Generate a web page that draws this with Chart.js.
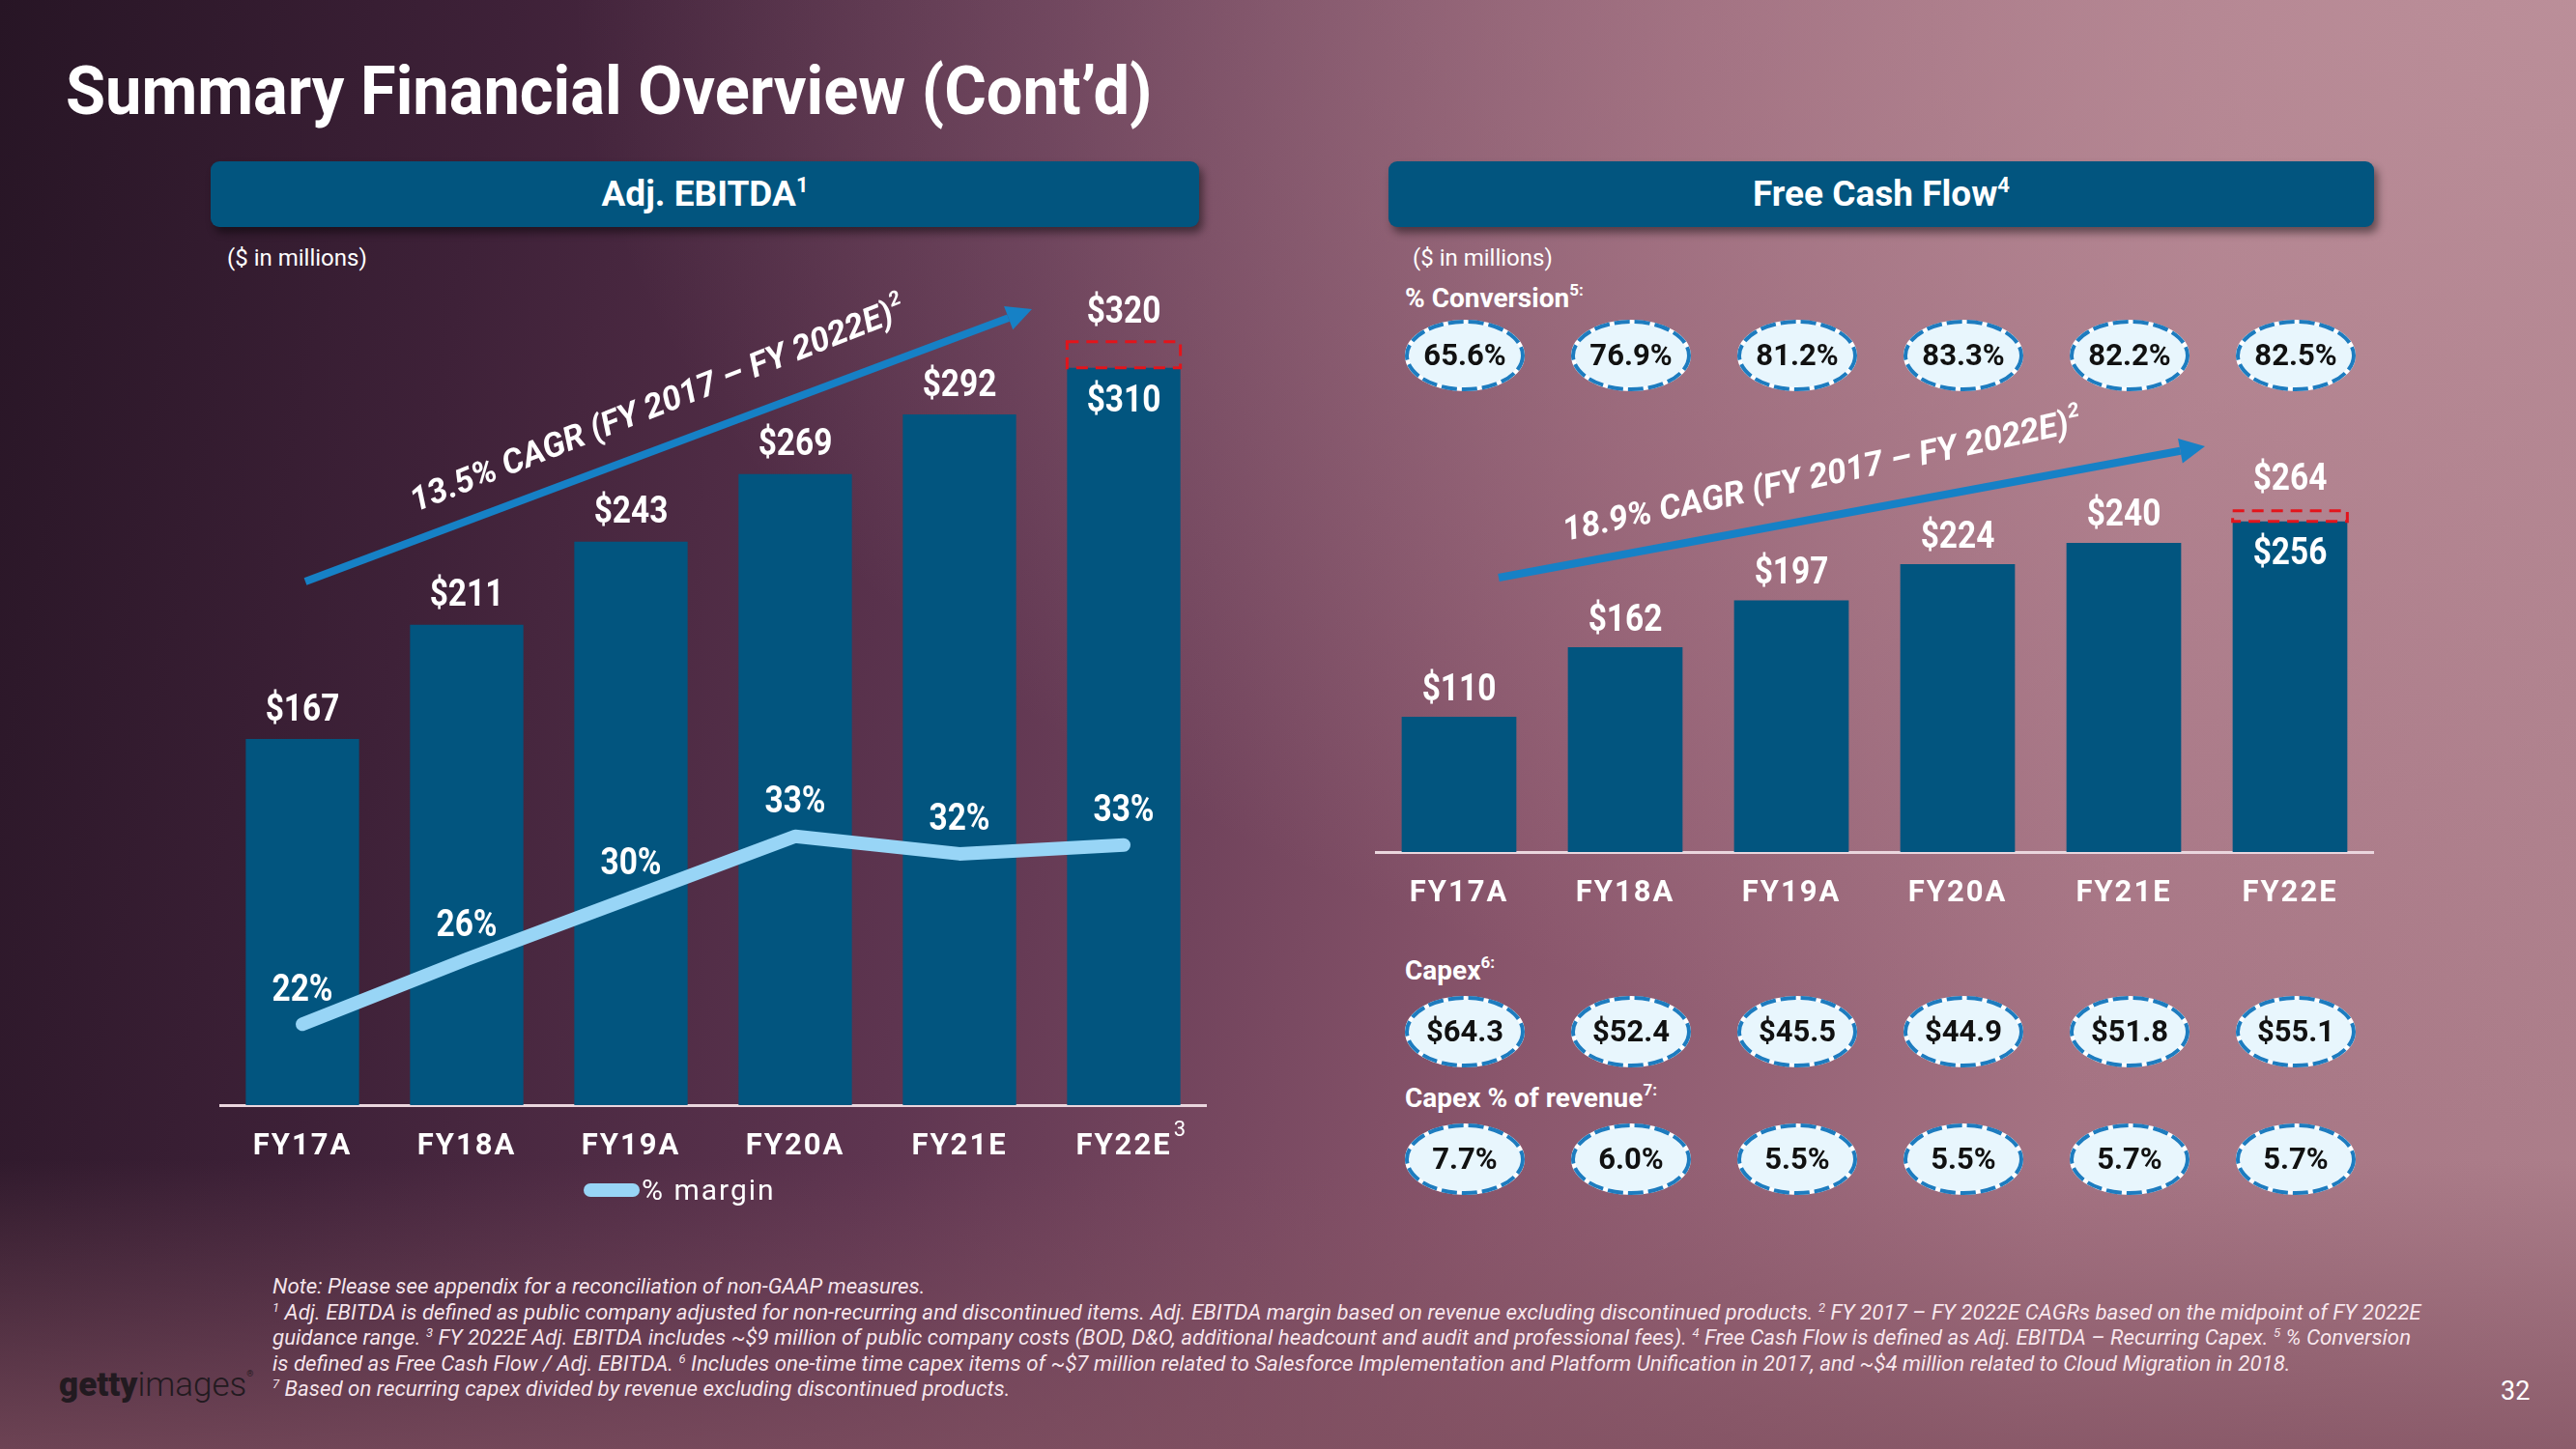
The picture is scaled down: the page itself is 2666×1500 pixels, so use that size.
<!DOCTYPE html>
<html>
<head>
<meta charset="utf-8">
<title>Summary Financial Overview (Cont'd)</title>
<script src="https://cdn.jsdelivr.net/npm/chart.js@4.4.0/dist/chart.umd.min.js"></script>
<style>
  body { margin: 0; }
  #page {
    position: relative; width: 2666px; height: 1500px; overflow: hidden;
    font-family: Roboto, sans-serif; color: #fff;
    background:
      linear-gradient(to top, rgba(128, 80, 96, 0.75) 0%, rgba(128, 80, 96, 0) 20%),
      radial-gradient(ellipse at 100% 0%, rgba(190, 146, 156, 0.85) 0%, rgba(190, 146, 156, 0) 55%),
      linear-gradient(100deg, #271525 0%, #3e2138 18%, #5e3550 38%, #8a566c 60%, #a57383 80%, #ad7f8b 100%);
  }
  canvas { position: absolute; top: 0; }
  #ebitdaChart { left: 0; }
  #fcfChart { left: 1330px; }
  .title {
    position: absolute; left: 68px; top: 58px; font-size: 71px; font-weight: bold; line-height: 1; white-space: nowrap;
    transform: scaleX(0.94); transform-origin: 0 0;
  }
  .header {
    position: absolute; top: 167px; height: 68px; background: #02557f; border-radius: 9px;
    box-shadow: 4px 6px 9px rgba(0, 0, 0, 0.45);
    font-size: 37px; font-weight: bold; text-align: center; line-height: 68px;
  }
  .header sup { font-size: 22px; vertical-align: 14px; line-height: 0; }
  .units { position: absolute; top: 253px; font-size: 24px; }
  .rowlabel { position: absolute; left: 1454px; font-size: 28px; font-weight: bold; white-space: nowrap; }
  .rowlabel sup { font-size: 17px; vertical-align: 12px; line-height: 0; }
  .legend { position: absolute; left: 604px; top: 1212px; height: 40px; white-space: nowrap; }
  .legend .swatch { position: absolute; left: 0; top: 13px; width: 58px; height: 14px; border-radius: 7px; background: #98d5f6; }
  .legend .text { position: absolute; left: 60px; top: 0; font-size: 30px; letter-spacing: 2px; line-height: 40px; }
  .notes {
    position: absolute; left: 282px; top: 1318px; font-size: 22.3px; font-style: italic; line-height: 26.5px;
    color: rgba(255, 240, 246, 0.95); white-space: nowrap;
  }
  .notes sup { font-size: 13px; vertical-align: 8px; line-height: 0; }
  .logo { position: absolute; left: 61px; top: 1414px; font-size: 35px; line-height: 40px; color: #221a20; white-space: nowrap; }
  .logo b { font-weight: 900; }
  .logo span { font-weight: 300; }
  .logo sup { font-size: 9px; vertical-align: 20px; line-height: 0; }
  .pagenum { position: absolute; left: 2588px; top: 1424px; font-size: 27px; }
</style>
</head>
<body>
<div id="page">
  <div class="title">Summary Financial Overview (Cont’d)</div>

  <div class="header" style="left:218px; width:1023px;">Adj. EBITDA<sup>1</sup></div>
  <div class="header" style="left:1437px; width:1020px;">Free Cash Flow<sup>4</sup></div>

  <div class="units" style="left:235px;">($ in millions)</div>
  <div class="units" style="left:1462px;">($ in millions)</div>

  <div class="rowlabel" style="top:292px;">% Conversion<sup>5:</sup></div>
  <div class="rowlabel" style="top:988px;">Capex<sup>6:</sup></div>
  <div class="rowlabel" style="top:1120px;">Capex % of revenue<sup>7:</sup></div>

  <canvas id="ebitdaChart" width="1330" height="1300"></canvas>
  <canvas id="fcfChart" width="1336" height="1300"></canvas>

  <div class="legend"><div class="swatch"></div><div class="text">% margin</div></div>

  <div class="notes">
    Note: Please see appendix for a reconciliation of non-GAAP measures.<br>
    <sup>1</sup> Adj. EBITDA is defined as public company adjusted for non-recurring and discontinued items. Adj. EBITDA margin based on revenue excluding discontinued products. <sup>2</sup> FY 2017 – FY 2022E CAGRs based on the midpoint of FY 2022E<br>
    guidance range. <sup>3</sup> FY 2022E Adj. EBITDA includes ~$9 million of public company costs (BOD, D&amp;O, additional headcount and audit and professional fees). <sup>4</sup> Free Cash Flow is defined as Adj. EBITDA – Recurring Capex. <sup>5</sup> % Conversion<br>
    is defined as Free Cash Flow / Adj. EBITDA. <sup>6</sup> Includes one-time time capex items of ~$7 million related to Salesforce Implementation and Platform Unification in 2017, and ~$4 million related to Cloud Migration in 2018.<br>
    <sup>7</sup> Based on recurring capex divided by revenue excluding discontinued products.
  </div>

  <div class="logo"><b>getty</b><span>images</span><sup>®</sup></div>
  <div class="pagenum">32</div>
</div>

<script>
// categories
const years = ['FY17A', 'FY18A', 'FY19A', 'FY20A', 'FY21E', 'FY22E'];

// Adj. EBITDA ($M) and margin (%)
const ebitda = [167, 211, 243, 269, 292, 310];
const ebitdaHigh = 320;               // top of FY22E guidance range
const margin = [22.3, 26.0, 29.5, 33.0, 32.0, 32.5];
const ebitdaCagr = '13.5% CAGR (FY 2017 – FY 2022E)';

// Free cash flow ($M)
const fcf = [110, 162, 197, 224, 240, 256];
const fcfHigh = 264;
const fcfCagr = '18.9% CAGR (FY 2017 – FY 2022E)';

// bubble rows
const conversion = [65.6, 76.9, 81.2, 83.3, 82.2, 82.5];
const capex = [64.3, 52.4, 45.5, 44.9, 51.8, 55.1];
const capexPct = [7.7, 6.0, 5.5, 5.5, 5.7, 5.7];

const FONT = 'Roboto, sans-serif';
const barBlue = '#02557f';
const lineBlue = '#98d5f6';
const arrowBlue = '#1681c6';
const rangeRed = '#e3141b';

Chart.defaults.font.family = FONT;

// text squeezed horizontally, the slide uses a condensed face
function fillNarrow(ctx, text, x, y, sx) {
    ctx.save();
    ctx.translate(x, y);
    ctx.scale(sx, 1);
    ctx.fillText(text, 0, 0);
    ctx.restore();
}

function drawArrow(ctx, x1, y1, x2, y2) {
    const ang = Math.atan2(y2 - y1, x2 - x1);
    const head = 26, half = 13;
    const bx = x2 - head * Math.cos(ang), by = y2 - head * Math.sin(ang);
    ctx.save();
    ctx.strokeStyle = arrowBlue;
    ctx.fillStyle = arrowBlue;
    ctx.lineWidth = 8;
    ctx.beginPath();
    ctx.moveTo(x1, y1);
    ctx.lineTo(bx, by);
    ctx.stroke();
    ctx.beginPath();
    ctx.moveTo(x2, y2);
    ctx.lineTo(bx + half * Math.sin(ang), by - half * Math.cos(ang));
    ctx.lineTo(bx - half * Math.sin(ang), by + half * Math.cos(ang));
    ctx.closePath();
    ctx.fill();
    ctx.restore();
}

function drawCagrText(ctx, text, x, y, deg) {
    ctx.save();
    ctx.translate(x, y);
    ctx.rotate(deg * Math.PI / 180);
    ctx.fillStyle = '#fff';
    ctx.textAlign = 'left';
    ctx.textBaseline = 'alphabetic';
    ctx.font = 'italic bold 35px ' + FONT;
    ctx.fillText(text, 0, 0);
    const w = ctx.measureText(text).width;
    ctx.font = 'italic bold 21px ' + FONT;
    ctx.fillText('2', w + 2, -16);
    ctx.restore();
}

function drawRangeBox(ctx, bar, topPx) {
    ctx.save();
    ctx.strokeStyle = rangeRed;
    ctx.lineWidth = 3;
    ctx.setLineDash([12, 8]);
    ctx.strokeRect(bar.x - bar.width / 2, topPx, bar.width, bar.y - topPx);
    ctx.restore();
}

function drawBubble(ctx, cx, cy, text) {
    ctx.save();
    ctx.beginPath();
    ctx.ellipse(cx, cy, 60, 35, 0, 0, Math.PI * 2);
    ctx.fillStyle = '#e8f6fd';
    ctx.fill();
    ctx.lineWidth = 4;
    ctx.strokeStyle = '#ffffff';
    ctx.stroke();
    ctx.setLineDash([16, 5]);
    ctx.strokeStyle = '#1d7cbf';
    ctx.stroke();
    ctx.setLineDash([]);
    ctx.fillStyle = '#111';
    ctx.font = 'bold 31px ' + FONT;
    ctx.textAlign = 'center';
    ctx.textBaseline = 'middle';
    ctx.fillText(text, cx, cy + 2);
    ctx.restore();
}

// spaced-out category labels: letter spacing on for the axes only
const spacedTicks = {
    id: 'spacedTicks',
    beforeDraw(chart) { chart.ctx.letterSpacing = '2px'; },
    beforeDatasetsDraw(chart) { chart.ctx.letterSpacing = '0px'; }
};

const ebitdaDecor = {
    id: 'ebitdaDecor',
    afterDatasetsDraw(chart) {
        const ctx = chart.ctx;
        const y = chart.scales.y;
        const bars = chart.getDatasetMeta(1).data;
        const pts = chart.getDatasetMeta(0).data;
        const last = bars.length - 1;

        ctx.save();
        ctx.fillStyle = '#fff';
        ctx.textAlign = 'center';
        ctx.textBaseline = 'middle';
        ctx.font = 'bold 38px ' + FONT;
        bars.forEach((b, i) => {
            if (i === last) {
                const top = y.getPixelForValue(ebitdaHigh);
                drawRangeBox(ctx, b, top);
                fillNarrow(ctx, '$' + ebitdaHigh, b.x, top - 29, 0.88);
                fillNarrow(ctx, '$' + ebitda[i], b.x, b.y + 36, 0.88);
            } else {
                fillNarrow(ctx, '$' + ebitda[i], b.x, b.y - 29, 0.88);
            }
        });
        pts.forEach((p, i) => {
            fillNarrow(ctx, Math.round(margin[i]) + '%', p.x, p.y - 34, 0.88);
        });

        // footnote marker on the last category
        const xs = chart.scales.x;
        ctx.font = '22px ' + FONT;
        ctx.fillText('3', xs.getPixelForValue(last) + 58, xs.top + 26);
        ctx.restore();

        drawArrow(ctx, 316, 602, 1068, 320);
        drawCagrText(ctx, ebitdaCagr, 430, 530, -21.6);
    }
};

const fcfDecor = {
    id: 'fcfDecor',
    afterDatasetsDraw(chart) {
        const ctx = chart.ctx;
        const y = chart.scales.y;
        const xs = chart.scales.x;
        const bars = chart.getDatasetMeta(0).data;
        const last = bars.length - 1;

        ctx.save();
        ctx.fillStyle = '#fff';
        ctx.textAlign = 'center';
        ctx.textBaseline = 'middle';
        ctx.font = 'bold 38px ' + FONT;
        bars.forEach((b, i) => {
            if (i === last) {
                const top = y.getPixelForValue(fcfHigh);
                drawRangeBox(ctx, b, top);
                fillNarrow(ctx, '$' + fcfHigh, b.x, top - 31, 0.88);
                fillNarrow(ctx, '$' + fcf[i], b.x, b.y + 35, 0.88);
            } else {
                fillNarrow(ctx, '$' + fcf[i], b.x, b.y - 27, 0.88);
            }
        });
        ctx.restore();

        drawArrow(ctx, 221, 598, 952, 462);
        drawCagrText(ctx, fcfCagr, 290, 560, -12);

        // bubble rows share the category positions of the bars
        years.forEach((yr, i) => {
            const cx = xs.getPixelForValue(i) + 6;
            drawBubble(ctx, cx, 368, conversion[i].toFixed(1) + '%');
            drawBubble(ctx, cx, 1068, '$' + capex[i].toFixed(1));
            drawBubble(ctx, cx, 1200, capexPct[i].toFixed(1) + '%');
        });
    }
};

function xAxis() {
    return {
        grid: { display: false, drawTicks: false },
        border: { display: true, color: '#ead6de', width: 3 },
        ticks: { color: '#fff', font: { size: 31, weight: 'bold' }, padding: 25, maxRotation: 0, autoSkip: false },
        afterFit: s => { s.height = 70; }
    };
}

new Chart(document.getElementById('ebitdaChart'), {
    type: 'bar',
    data: {
        labels: years,
        datasets: [{
            type: 'line',
            label: '% margin',
            data: margin,
            yAxisID: 'y2',
            borderColor: lineBlue,
            borderWidth: 14,
            borderCapStyle: 'round',
            borderJoinStyle: 'round',
            pointRadius: 0,
            tension: 0,
            order: 0
        }, {
            type: 'bar',
            label: 'Adj. EBITDA',
            data: ebitda,
            backgroundColor: barBlue,
            barPercentage: 0.69,
            categoryPercentage: 1,
            order: 1
        }]
    },
    options: {
        responsive: false,
        animation: false,
        layout: { padding: { left: 228, right: 82, top: 300, bottom: 86 } },
        plugins: { legend: { display: false }, tooltip: { enabled: false } },
        scales: {
            x: xAxis(),
            y: { display: false, min: 26, max: 340 },
            y2: { display: false, min: 17.7, max: 64.1 }
        }
    },
    plugins: [spacedTicks, ebitdaDecor]
});

new Chart(document.getElementById('fcfChart'), {
    type: 'bar',
    data: {
        labels: years,
        datasets: [{
            label: 'Free Cash Flow',
            data: fcf,
            backgroundColor: barBlue,
            barPercentage: 0.69,
            categoryPercentage: 1
        }]
    },
    options: {
        responsive: false,
        animation: false,
        layout: { padding: { left: 94, right: 210, top: 440, bottom: 348 } },
        plugins: { legend: { display: false }, tooltip: { enabled: false } },
        scales: {
            x: xAxis(),
            y: { display: false, min: 9, max: 328 }
        }
    },
    plugins: [spacedTicks, fcfDecor]
});
</script>
</body>
</html>
